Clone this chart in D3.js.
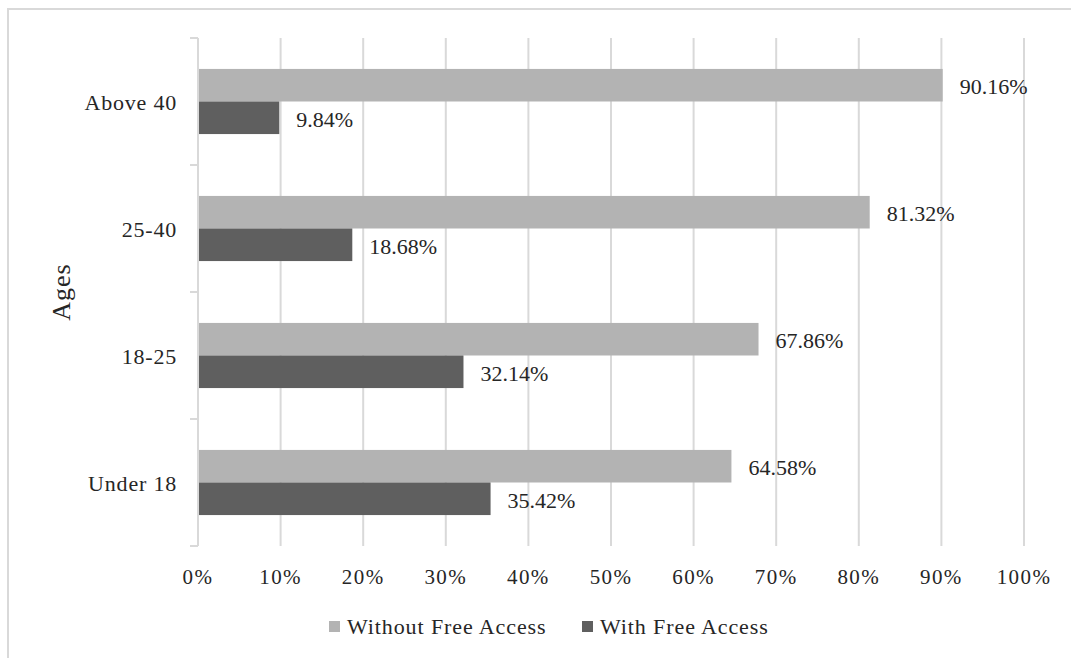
<!DOCTYPE html>
<html>
<head>
<meta charset="utf-8">
<script src="https://cdn.jsdelivr.net/npm/d3@7"></script>
<style>
  html, body { margin: 0; padding: 0; background: #fff; }
  svg text { font-family: "Liberation Serif", "Times New Roman", serif; fill: #262626; }
</style>
</head>
<body>
<svg id="chart" width="1071" height="658"></svg>
<script>
// Age groups, listed top to bottom
const categories = ["Above 40", "25-40", "18-25", "Under 18"];
const seriesNames = ["Without Free Access", "With Free Access"];
const withoutFree = [90.16, 81.32, 67.86, 64.58];
const withFree = [9.84, 18.68, 32.14, 35.42];
const xTicks = [0, 10, 20, 30, 40, 50, 60, 70, 80, 90, 100];
const colors = ["#b3b3b3", "#5f5f5f"];

const svg = d3.select("#chart");
const W = 1071, H = 658;
const m = { left: 198, right: 47, top: 38, bottom: 112 };

// Outer frame, runs off the right and bottom edges
svg.append("rect")
  .attr("x", 8).attr("y", 9)
  .attr("width", W + 20).attr("height", H + 20)
  .attr("fill", "none").attr("stroke", "#d9d9d9").attr("stroke-width", 2);

const x = d3.scaleLinear().domain([0, 100]).range([m.left, W - m.right]);
const y = d3.scaleBand().domain(categories).range([m.top, H - m.bottom]).paddingInner(0).paddingOuter(0);
const inner = d3.scaleBand().domain(seriesNames).range([0, y.bandwidth()]).paddingInner(0).paddingOuter(0.95);

// Vertical gridlines
svg.append("g").selectAll("line").data(xTicks.slice(1)).join("line")
  .attr("x1", d => x(d)).attr("x2", d => x(d))
  .attr("y1", m.top).attr("y2", H - m.bottom)
  .attr("stroke", "#d9d9d9").attr("stroke-width", 2);

// Bars with value labels
const rows = categories.map((c, i) => ({ cat: c, vals: [withoutFree[i], withFree[i]] }));
const g = svg.append("g");
rows.forEach(r => {
  r.vals.forEach((v, j) => {
    const yy = y(r.cat) + inner(seriesNames[j]);
    g.append("rect")
      .attr("x", x(0)).attr("y", yy)
      .attr("width", x(v) - x(0)).attr("height", inner.bandwidth())
      .attr("fill", colors[j]);
    g.append("text")
      .attr("x", x(v) + 17).attr("y", yy + inner.bandwidth() / 2)
      .attr("dy", "0.42em")
      .attr("font-size", 22)
      .text(v.toFixed(2) + "%");
  });
});

// Category axis with tick marks between groups
const yAxis = svg.append("g");
yAxis.append("line")
  .attr("x1", m.left).attr("x2", m.left)
  .attr("y1", m.top).attr("y2", H - m.bottom)
  .attr("stroke", "#d9d9d9").attr("stroke-width", 2);
const bounds = categories.map(c => y(c)).concat([H - m.bottom]);
yAxis.selectAll("line.tick").data(bounds).join("line").attr("class", "tick")
  .attr("x1", m.left - 8).attr("x2", m.left)
  .attr("y1", d => d).attr("y2", d => d)
  .attr("stroke", "#d9d9d9").attr("stroke-width", 2);
yAxis.selectAll("text").data(categories).join("text")
  .attr("x", m.left - 21)
  .attr("y", d => y(d) + y.bandwidth() / 2)
  .attr("dy", "0.38em")
  .attr("text-anchor", "end")
  .attr("font-size", 22)
  .attr("letter-spacing", 0.8)
  .text(d => d);

// Percentage axis labels
svg.append("g").selectAll("text").data(xTicks).join("text")
  .attr("x", d => x(d))
  .attr("y", 584)
  .attr("text-anchor", "middle")
  .attr("font-size", 21)
  .attr("letter-spacing", 1.4)
  .text(d => d + "%");

// Axis title
svg.append("text")
  .attr("transform", "translate(70,292) rotate(-90)")
  .attr("text-anchor", "middle")
  .attr("font-size", 26)
  .attr("letter-spacing", 1)
  .text("Ages");

// Legend
const legendX = [329, 582];
const legend = svg.append("g");
seriesNames.forEach((n, j) => {
  legend.append("rect")
    .attr("x", legendX[j]).attr("y", 621)
    .attr("width", 11).attr("height", 11)
    .attr("fill", colors[j]);
  legend.append("text")
    .attr("x", legendX[j] + 18).attr("y", 634)
    .attr("font-size", 22)
    .attr("letter-spacing", 0.9)
    .text(n);
});
</script>
</body>
</html>
